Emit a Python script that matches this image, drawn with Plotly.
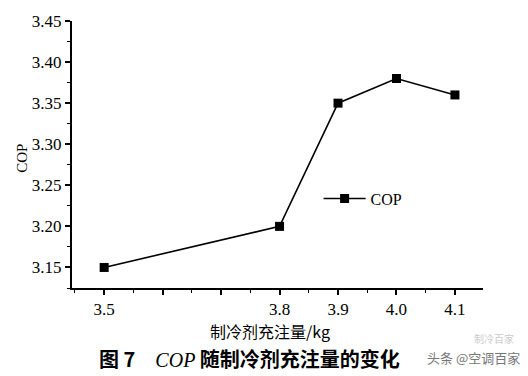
import plotly.graph_objects as go

charge_kg = [3.5, 3.8, 3.9, 4.0, 4.1]
cop_values = [3.15, 3.20, 3.35, 3.38, 3.36]
x_tick_vals = [3.5, 3.6, 3.7, 3.8, 3.9, 4.0, 4.1]
x_tick_text = ["3.5", "", "", "3.8", "3.9", "4.0", "4.1"]
y_tick_vals = [3.15, 3.20, 3.25, 3.30, 3.35, 3.40, 3.45]
y_tick_text = ["3.15", "3.20", "3.25", "3.30", "3.35", "3.40", "3.45"]

serif = "Liberation Serif"
cjk = "Noto Sans CJK SC"


def serif_label(t):
    return f"<span style='font-family:Liberation Serif'>{t}</span>" if t else ""


fig = go.Figure()
fig.add_trace(go.Scatter(
    x=charge_kg, y=cop_values, mode="lines+markers", name="COP",
    line=dict(color="black", width=1.6),
    marker=dict(symbol="square", size=9, color="black"),
))

fig.update_layout(
    width=528, height=376,
    font=dict(family=serif, color="black"),
    margin=dict(l=72, r=45, t=15, b=88),
    paper_bgcolor="white", plot_bgcolor="white",
    showlegend=True,
    legend=dict(x=0.6, y=0.335, xanchor="left", yanchor="middle", itemwidth=42,
                font=dict(family=serif, size=16, color="black"),
                bgcolor="rgba(0,0,0,0)"),
    xaxis=dict(
        range=[3.445, 4.148], showgrid=False, zeroline=False,
        showline=True, linecolor="black", linewidth=2,
        ticks="outside", tickcolor="black", ticklen=5, tickwidth=1.5,
        tickvals=x_tick_vals, ticktext=[serif_label(t) for t in x_tick_text],
        tickfont=dict(family=serif, size=17, color="black"),
        minor=dict(dtick=0.05, tick0=3.45, ticks="outside", ticklen=3, tickcolor="black", tickwidth=1.2),
    ),
    yaxis=dict(
        range=[3.125, 3.45], showgrid=False, zeroline=False,
        showline=True, linecolor="black", linewidth=2,
        ticks="outside", tickcolor="black", ticklen=5, tickwidth=1.5,
        tickvals=y_tick_vals, ticktext=[serif_label(t) for t in y_tick_text],
        tickfont=dict(family=serif, size=17, color="black"),
        minor=dict(dtick=0.025, tick0=3.125, ticks="outside", ticklen=3, tickcolor="black", tickwidth=1.2),
    ),
    annotations=[
        dict(text="COP", xref="paper", yref="paper", x=-0.122, y=0.487,
             textangle=-90, showarrow=False, xanchor="center", yanchor="middle",
             font=dict(family=serif, size=15, color="black")),
        dict(text="制冷剂充注量/kg", xref="paper", yref="paper", x=0.482, y=-0.16,
             showarrow=False, xanchor="center", yanchor="middle",
             font=dict(family=cjk, size=16, color="black")),
        dict(text="<b>图 7</b>　<span style='font-family:Liberation Serif'><i>COP</i></span> <b>随制冷剂充注量的变化</b>",
             xref="paper", yref="paper",
             x=0.06, y=-0.265, showarrow=False, xanchor="left", yanchor="middle",
             font=dict(family=cjk, size=20, color="black")),
        dict(text="头条 @空调百家", xref="paper", yref="paper", x=1.095, y=-0.262,
             showarrow=False, xanchor="right", yanchor="middle",
             font=dict(family=cjk, size=13, color="#777")),
        dict(text="制冷百家", xref="paper", yref="paper", x=1.08, y=-0.19,
             showarrow=False, xanchor="right", yanchor="middle",
             font=dict(family=cjk, size=10, color="#ccc")),
    ],
)

fig.write_html("out.html", config={"displayModeBar": False},
               post_script="document.body.style.margin='0';")
